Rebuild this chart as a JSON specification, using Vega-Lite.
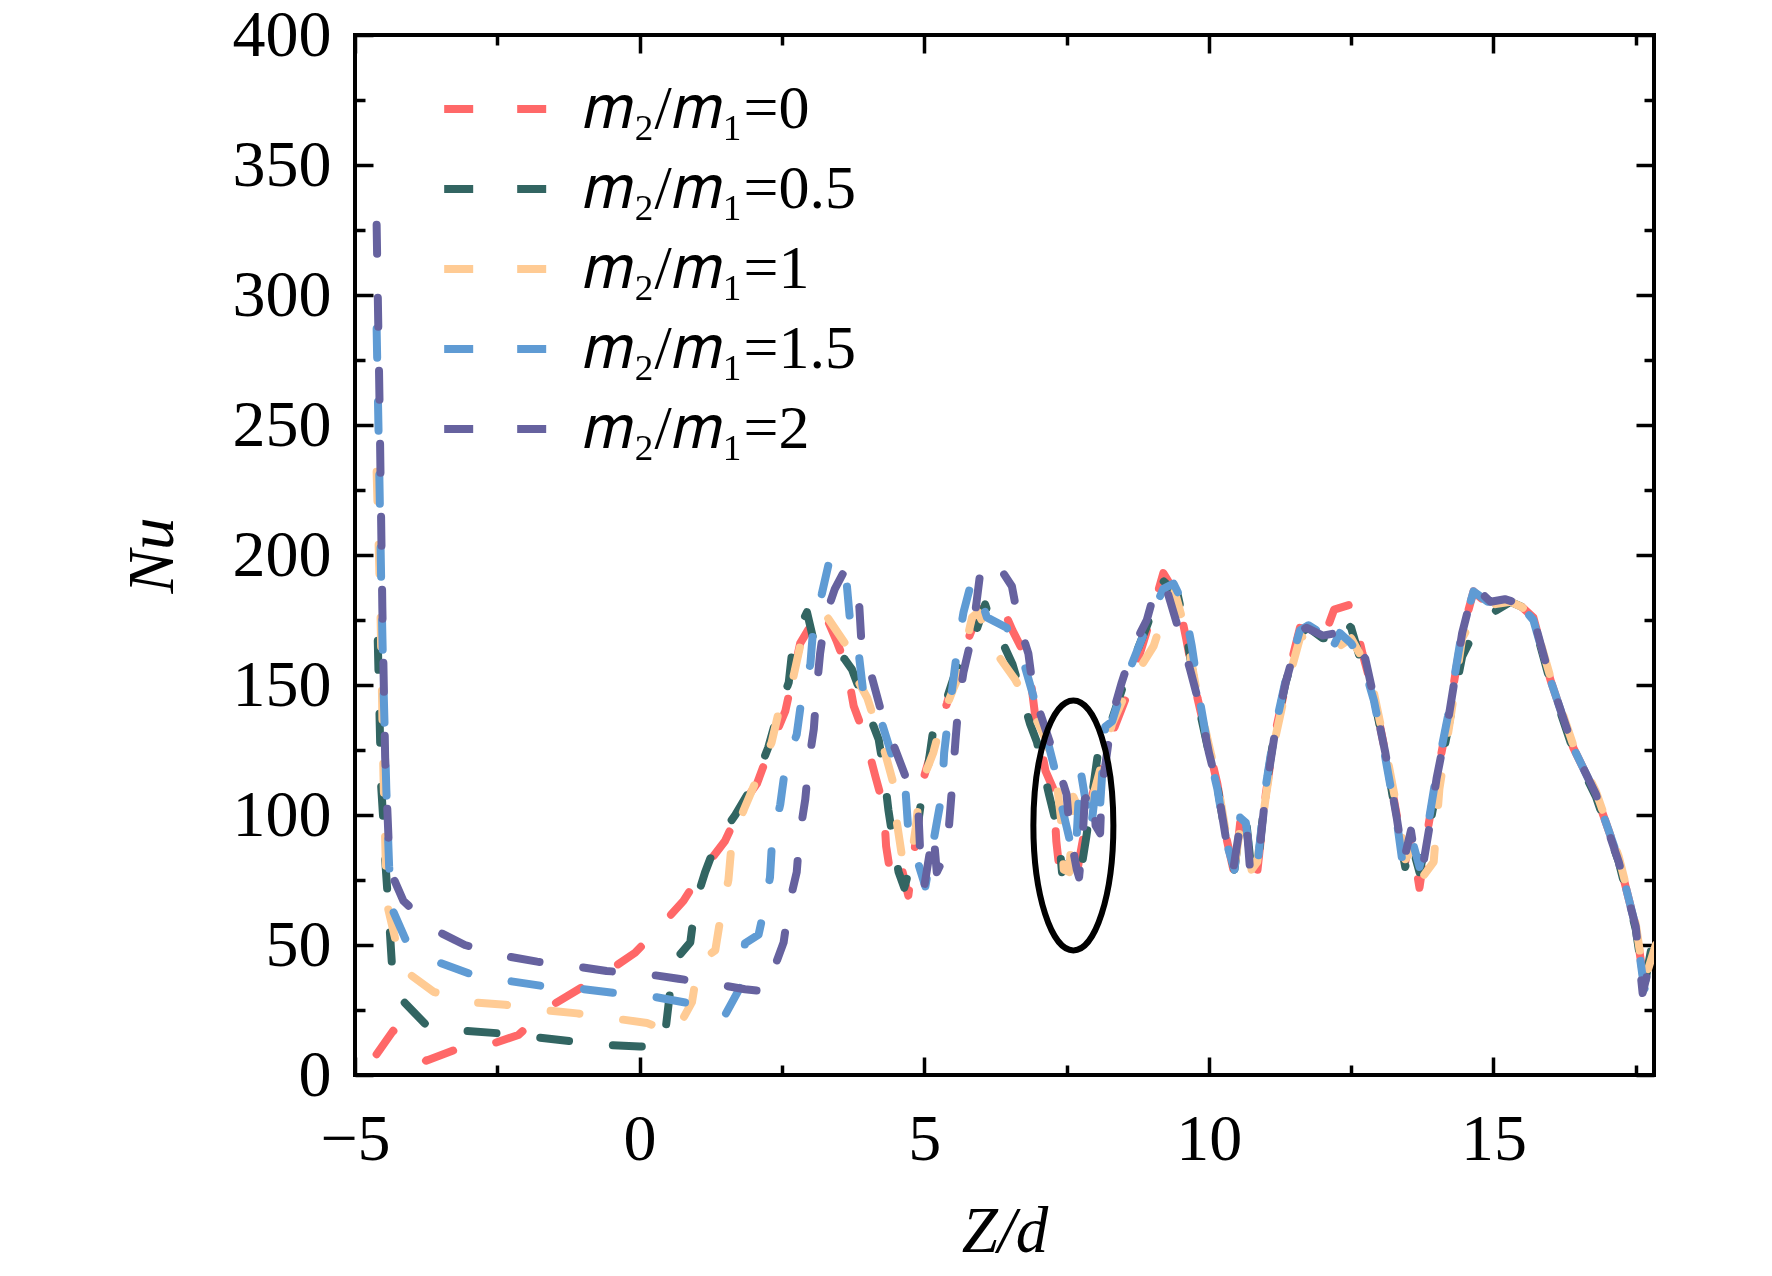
{
  "$schema": "https://vega.github.io/schema/vega-lite/v6.json",
  "autosize": {"type": "none"},
  "padding": {"left": 355, "top": 35, "right": 118, "bottom": 201},
  "width": 1299,
  "height": 1040,
  "background": "white",
  "datasets": {
    "curves": [
      {"r":"0","z":-4.62,"nu":8},{"r":"0","z":-4.33,"nu":17},{"r":"0","z":-3.75,"nu":5.5},{"r":"0","z":-3.2,"nu":10},{"r":"0","z":-2.66,"nu":11.5},{"r":"0","z":-2.13,"nu":15.4},{"r":"0","z":-1.6,"nu":26},{"r":"0","z":-1.07,"nu":33},{"r":"0","z":-0.55,"nu":40},{"r":"0","z":-0.08,"nu":47},{"r":"0","z":0.36,"nu":57},{"r":"0","z":0.77,"nu":67},{"r":"0","z":1.15,"nu":80},{"r":"0","z":1.5,"nu":90},{"r":"0","z":1.8,"nu":104},{"r":"0","z":2.06,"nu":112},{"r":"0","z":2.35,"nu":129},{"r":"0","z":2.56,"nu":140},{"r":"0","z":2.82,"nu":166},{"r":"0","z":3.2,"nu":180},{"r":"0","z":3.46,"nu":167},{"r":"0","z":3.64,"nu":156.5},{"r":"0","z":3.76,"nu":142},{"r":"0","z":3.96,"nu":130},{"r":"0","z":4.14,"nu":115},{"r":"0","z":4.29,"nu":103},{"r":"0","z":4.33,"nu":88},{"r":"0","z":4.43,"nu":74},{"r":"0","z":4.6,"nu":80},{"r":"0","z":4.72,"nu":69},{"r":"0","z":4.85,"nu":90},{"r":"0","z":5.0,"nu":115},{"r":"0","z":5.2,"nu":130},{"r":"0","z":5.4,"nu":143},{"r":"0","z":5.6,"nu":158},{"r":"0","z":5.85,"nu":172},{"r":"0","z":6.05,"nu":182},{"r":"0","z":6.33,"nu":182},{"r":"0","z":6.55,"nu":171},{"r":"0","z":6.83,"nu":159},{"r":"0","z":6.95,"nu":138},{"r":"0","z":7.13,"nu":117},{"r":"0","z":7.27,"nu":110},{"r":"0","z":7.32,"nu":90},{"r":"0","z":7.39,"nu":76},{"r":"0","z":7.55,"nu":82},{"r":"0","z":7.7,"nu":80},{"r":"0","z":7.85,"nu":98},{"r":"0","z":8.0,"nu":112},{"r":"0","z":8.2,"nu":125},{"r":"0","z":8.33,"nu":133},{"r":"0","z":8.56,"nu":146},{"r":"0","z":8.9,"nu":170},{"r":"0","z":9.2,"nu":193},{"r":"0","z":9.45,"nu":184},{"r":"0","z":9.6,"nu":168},{"r":"0","z":9.8,"nu":145},{"r":"0","z":10.0,"nu":126},{"r":"0","z":10.15,"nu":112},{"r":"0","z":10.3,"nu":92},{"r":"0","z":10.45,"nu":77},{"r":"0","z":10.55,"nu":97},{"r":"0","z":10.65,"nu":96},{"r":"0","z":10.75,"nu":80},{"r":"0","z":10.85,"nu":78},{"r":"0","z":11.0,"nu":108},{"r":"0","z":11.15,"nu":130},{"r":"0","z":11.35,"nu":150},{"r":"0","z":11.6,"nu":172},{"r":"0","z":11.75,"nu":171},{"r":"0","z":12.0,"nu":167},{"r":"0","z":12.2,"nu":179},{"r":"0","z":12.5,"nu":181},{"r":"0","z":12.7,"nu":162},{"r":"0","z":12.9,"nu":146},{"r":"0","z":13.1,"nu":124},{"r":"0","z":13.3,"nu":100},{"r":"0","z":13.45,"nu":82},{"r":"0","z":13.55,"nu":92},{"r":"0","z":13.7,"nu":72},{"r":"0","z":13.85,"nu":95},{"r":"0","z":14.0,"nu":114},{"r":"0","z":14.2,"nu":137},{"r":"0","z":14.45,"nu":170},{"r":"0","z":14.65,"nu":186},{"r":"0","z":14.9,"nu":181},{"r":"0","z":15.2,"nu":182},{"r":"0","z":15.5,"nu":180},{"r":"0","z":15.7,"nu":176},{"r":"0","z":16.0,"nu":152},{"r":"0","z":16.4,"nu":126},{"r":"0","z":16.8,"nu":108},{"r":"0","z":17.2,"nu":83},{"r":"0","z":17.5,"nu":57},{"r":"0","z":17.65,"nu":35},{"r":"0","z":17.85,"nu":46},

      {"r":"0.5","z":-4.6,"nu":167},{"r":"0.5","z":-4.57,"nu":139},{"r":"0.5","z":-4.54,"nu":111},{"r":"0.5","z":-4.5,"nu":97},{"r":"0.5","z":-4.47,"nu":83},{"r":"0.5","z":-4.43,"nu":70},{"r":"0.5","z":-4.39,"nu":56},{"r":"0.5","z":-4.35,"nu":42},{"r":"0.5","z":-4.2,"nu":29.5},{"r":"0.5","z":-3.74,"nu":19},{"r":"0.5","z":-3.07,"nu":17},{"r":"0.5","z":-2.45,"nu":16},{"r":"0.5","z":-1.8,"nu":14.5},{"r":"0.5","z":-1.22,"nu":13},{"r":"0.5","z":-0.55,"nu":11.5},{"r":"0.5","z":0.0,"nu":11},{"r":"0.5","z":0.42,"nu":11},{"r":"0.5","z":0.47,"nu":20},{"r":"0.5","z":0.55,"nu":35},{"r":"0.5","z":0.62,"nu":44},{"r":"0.5","z":0.89,"nu":51},{"r":"0.5","z":0.98,"nu":66},{"r":"0.5","z":1.15,"nu":78},{"r":"0.5","z":1.36,"nu":90},{"r":"0.5","z":1.68,"nu":100},{"r":"0.5","z":2.03,"nu":113},{"r":"0.5","z":2.26,"nu":126},{"r":"0.5","z":2.44,"nu":140},{"r":"0.5","z":2.62,"nu":151},{"r":"0.5","z":2.7,"nu":167},{"r":"0.5","z":2.94,"nu":178},{"r":"0.5","z":3.08,"nu":165},{"r":"0.5","z":3.41,"nu":164},{"r":"0.5","z":3.6,"nu":160},{"r":"0.5","z":3.73,"nu":156},{"r":"0.5","z":3.85,"nu":149},{"r":"0.5","z":4.2,"nu":129},{"r":"0.5","z":4.29,"nu":117},{"r":"0.5","z":4.37,"nu":102},{"r":"0.5","z":4.46,"nu":89},{"r":"0.5","z":4.55,"nu":78},{"r":"0.5","z":4.65,"nu":72},{"r":"0.5","z":4.75,"nu":80},{"r":"0.5","z":4.85,"nu":90},{"r":"0.5","z":4.95,"nu":106},{"r":"0.5","z":5.05,"nu":116},{"r":"0.5","z":5.16,"nu":133},{"r":"0.5","z":5.28,"nu":137},{"r":"0.5","z":5.55,"nu":155},{"r":"0.5","z":5.9,"nu":170},{"r":"0.5","z":6.07,"nu":181},{"r":"0.5","z":6.16,"nu":175},{"r":"0.5","z":6.34,"nu":168},{"r":"0.5","z":6.55,"nu":158},{"r":"0.5","z":6.86,"nu":135},{"r":"0.5","z":6.98,"nu":128},{"r":"0.5","z":7.19,"nu":108},{"r":"0.5","z":7.36,"nu":93},{"r":"0.5","z":7.42,"nu":78},{"r":"0.5","z":7.55,"nu":82},{"r":"0.5","z":7.72,"nu":74},{"r":"0.5","z":7.85,"nu":92},{"r":"0.5","z":8.06,"nu":125},{"r":"0.5","z":8.18,"nu":129},{"r":"0.5","z":8.5,"nu":150},{"r":"0.5","z":8.9,"nu":172},{"r":"0.5","z":9.2,"nu":190},{"r":"0.5","z":9.45,"nu":185},{"r":"0.5","z":9.6,"nu":170},{"r":"0.5","z":9.8,"nu":144},{"r":"0.5","z":10.0,"nu":124},{"r":"0.5","z":10.15,"nu":111},{"r":"0.5","z":10.3,"nu":91},{"r":"0.5","z":10.45,"nu":79},{"r":"0.5","z":10.55,"nu":97},{"r":"0.5","z":10.65,"nu":99},{"r":"0.5","z":10.75,"nu":78},{"r":"0.5","z":10.85,"nu":79},{"r":"0.5","z":11.0,"nu":110},{"r":"0.5","z":11.15,"nu":131},{"r":"0.5","z":11.35,"nu":151},{"r":"0.5","z":11.6,"nu":170},{"r":"0.5","z":11.75,"nu":172},{"r":"0.5","z":12.0,"nu":168},{"r":"0.5","z":12.15,"nu":168},{"r":"0.5","z":12.3,"nu":176},{"r":"0.5","z":12.5,"nu":172},{"r":"0.5","z":12.7,"nu":157},{"r":"0.5","z":12.9,"nu":145},{"r":"0.5","z":13.1,"nu":124},{"r":"0.5","z":13.3,"nu":98},{"r":"0.5","z":13.45,"nu":80},{"r":"0.5","z":13.55,"nu":90},{"r":"0.5","z":13.7,"nu":78},{"r":"0.5","z":13.85,"nu":92},{"r":"0.5","z":14.0,"nu":110},{"r":"0.5","z":14.2,"nu":133},{"r":"0.5","z":14.45,"nu":161},{"r":"0.5","z":14.7,"nu":172},{"r":"0.5","z":15.0,"nu":178},{"r":"0.5","z":15.3,"nu":182},{"r":"0.5","z":15.5,"nu":180},{"r":"0.5","z":15.7,"nu":175},{"r":"0.5","z":16.0,"nu":151},{"r":"0.5","z":16.4,"nu":125},{"r":"0.5","z":16.8,"nu":107},{"r":"0.5","z":17.2,"nu":82},{"r":"0.5","z":17.5,"nu":56},{"r":"0.5","z":17.65,"nu":34},{"r":"0.5","z":17.85,"nu":58},

      {"r":"1","z":-4.62,"nu":232},{"r":"1","z":-4.58,"nu":200},{"r":"1","z":-4.55,"nu":175},{"r":"1","z":-4.5,"nu":115},{"r":"1","z":-4.44,"nu":66},{"r":"1","z":-4.3,"nu":53},{"r":"1","z":-4.18,"nu":41},{"r":"1","z":-3.62,"nu":32},{"r":"1","z":-3.0,"nu":28},{"r":"1","z":-2.36,"nu":27},{"r":"1","z":-1.72,"nu":25},{"r":"1","z":-1.1,"nu":23.7},{"r":"1","z":-0.46,"nu":21.8},{"r":"1","z":0.13,"nu":20},{"r":"1","z":0.62,"nu":16},{"r":"1","z":0.92,"nu":28},{"r":"1","z":1.03,"nu":43},{"r":"1","z":1.33,"nu":48},{"r":"1","z":1.44,"nu":63},{"r":"1","z":1.56,"nu":75},{"r":"1","z":1.62,"nu":90},{"r":"1","z":1.83,"nu":102},{"r":"1","z":2.12,"nu":117},{"r":"1","z":2.32,"nu":128},{"r":"1","z":2.5,"nu":145},{"r":"1","z":2.7,"nu":153},{"r":"1","z":2.85,"nu":168},{"r":"1","z":3.11,"nu":172},{"r":"1","z":3.3,"nu":176},{"r":"1","z":3.64,"nu":165},{"r":"1","z":3.85,"nu":151},{"r":"1","z":4.0,"nu":145},{"r":"1","z":4.31,"nu":124},{"r":"1","z":4.46,"nu":112},{"r":"1","z":4.52,"nu":97},{"r":"1","z":4.61,"nu":84},{"r":"1","z":4.75,"nu":80},{"r":"1","z":4.85,"nu":95},{"r":"1","z":4.93,"nu":111},{"r":"1","z":5.16,"nu":124},{"r":"1","z":5.34,"nu":139},{"r":"1","z":5.52,"nu":149},{"r":"1","z":5.6,"nu":153},{"r":"1","z":5.84,"nu":176},{"r":"1","z":5.95,"nu":178},{"r":"1","z":6.1,"nu":170},{"r":"1","z":6.34,"nu":160},{"r":"1","z":6.6,"nu":152},{"r":"1","z":6.92,"nu":139},{"r":"1","z":7.16,"nu":128},{"r":"1","z":7.33,"nu":112},{"r":"1","z":7.4,"nu":99},{"r":"1","z":7.45,"nu":79},{"r":"1","z":7.55,"nu":78},{"r":"1","z":7.62,"nu":107},{"r":"1","z":7.74,"nu":101},{"r":"1","z":7.85,"nu":96},{"r":"1","z":8.0,"nu":110},{"r":"1","z":8.3,"nu":135},{"r":"1","z":8.6,"nu":150},{"r":"1","z":9.03,"nu":165},{"r":"1","z":9.21,"nu":177},{"r":"1","z":9.4,"nu":186},{"r":"1","z":9.6,"nu":170},{"r":"1","z":9.8,"nu":146},{"r":"1","z":10.0,"nu":127},{"r":"1","z":10.15,"nu":113},{"r":"1","z":10.3,"nu":93},{"r":"1","z":10.45,"nu":80},{"r":"1","z":10.55,"nu":95},{"r":"1","z":10.65,"nu":94},{"r":"1","z":10.75,"nu":79},{"r":"1","z":10.85,"nu":82},{"r":"1","z":11.0,"nu":107},{"r":"1","z":11.15,"nu":128},{"r":"1","z":11.35,"nu":148},{"r":"1","z":11.6,"nu":168},{"r":"1","z":11.75,"nu":170},{"r":"1","z":12.0,"nu":166},{"r":"1","z":12.3,"nu":165},{"r":"1","z":12.5,"nu":168},{"r":"1","z":12.7,"nu":160},{"r":"1","z":12.9,"nu":147},{"r":"1","z":13.1,"nu":126},{"r":"1","z":13.3,"nu":103},{"r":"1","z":13.45,"nu":83},{"r":"1","z":13.6,"nu":88},{"r":"1","z":13.75,"nu":76},{"r":"1","z":13.95,"nu":82},{"r":"1","z":14.05,"nu":110},{"r":"1","z":14.25,"nu":138},{"r":"1","z":14.45,"nu":168},{"r":"1","z":14.7,"nu":178},{"r":"1","z":15.0,"nu":181},{"r":"1","z":15.3,"nu":182},{"r":"1","z":15.5,"nu":180},{"r":"1","z":15.7,"nu":176},{"r":"1","z":16.0,"nu":153},{"r":"1","z":16.4,"nu":127},{"r":"1","z":16.8,"nu":109},{"r":"1","z":17.2,"nu":84},{"r":"1","z":17.5,"nu":58},{"r":"1","z":17.65,"nu":36},{"r":"1","z":17.85,"nu":50},

      {"r":"1.5","z":-4.62,"nu":287},{"r":"1.5","z":-4.58,"nu":240},{"r":"1.5","z":-4.54,"nu":190},{"r":"1.5","z":-4.5,"nu":150},{"r":"1.5","z":-4.45,"nu":110},{"r":"1.5","z":-4.4,"nu":80},{"r":"1.5","z":-4.33,"nu":63},{"r":"1.5","z":-4.09,"nu":51},{"r":"1.5","z":-3.49,"nu":43},{"r":"1.5","z":-2.86,"nu":38},{"r":"1.5","z":-2.25,"nu":36},{"r":"1.5","z":-1.63,"nu":34},{"r":"1.5","z":-0.99,"nu":33},{"r":"1.5","z":-0.37,"nu":31.4},{"r":"1.5","z":0.27,"nu":30},{"r":"1.5","z":0.89,"nu":27.5},{"r":"1.5","z":1.5,"nu":23},{"r":"1.5","z":1.8,"nu":35},{"r":"1.5","z":1.85,"nu":50.6},{"r":"1.5","z":2.09,"nu":54},{"r":"1.5","z":2.18,"nu":63},{"r":"1.5","z":2.29,"nu":76},{"r":"1.5","z":2.33,"nu":91},{"r":"1.5","z":2.47,"nu":104},{"r":"1.5","z":2.56,"nu":118.6},{"r":"1.5","z":2.76,"nu":131},{"r":"1.5","z":2.85,"nu":145.5},{"r":"1.5","z":3.0,"nu":158},{"r":"1.5","z":3.05,"nu":172},{"r":"1.5","z":3.2,"nu":185},{"r":"1.5","z":3.35,"nu":199.4},{"r":"1.5","z":3.64,"nu":188.5},{"r":"1.5","z":3.7,"nu":174},{"r":"1.5","z":3.85,"nu":162},{"r":"1.5","z":3.93,"nu":147},{"r":"1.5","z":4.26,"nu":135},{"r":"1.5","z":4.46,"nu":121},{"r":"1.5","z":4.67,"nu":110},{"r":"1.5","z":4.72,"nu":94},{"r":"1.5","z":4.87,"nu":83},{"r":"1.5","z":5.02,"nu":72.5},{"r":"1.5","z":5.22,"nu":97},{"r":"1.5","z":5.31,"nu":108},{"r":"1.5","z":5.35,"nu":124},{"r":"1.5","z":5.42,"nu":137},{"r":"1.5","z":5.5,"nu":150},{"r":"1.5","z":5.57,"nu":162},{"r":"1.5","z":5.69,"nu":178},{"r":"1.5","z":5.81,"nu":188},{"r":"1.5","z":5.9,"nu":190},{"r":"1.5","z":6.1,"nu":176},{"r":"1.5","z":6.45,"nu":172},{"r":"1.5","z":6.77,"nu":157},{"r":"1.5","z":6.92,"nu":145.5},{"r":"1.5","z":7.16,"nu":129},{"r":"1.5","z":7.3,"nu":117},{"r":"1.5","z":7.42,"nu":103},{"r":"1.5","z":7.56,"nu":90},{"r":"1.5","z":7.66,"nu":84},{"r":"1.5","z":7.74,"nu":118},{"r":"1.5","z":7.83,"nu":106},{"r":"1.5","z":7.92,"nu":93},{"r":"1.5","z":8.0,"nu":108},{"r":"1.5","z":8.07,"nu":97},{"r":"1.5","z":8.18,"nu":134},{"r":"1.5","z":8.3,"nu":136},{"r":"1.5","z":8.5,"nu":150},{"r":"1.5","z":8.9,"nu":172},{"r":"1.5","z":9.2,"nu":187},{"r":"1.5","z":9.38,"nu":189},{"r":"1.5","z":9.56,"nu":181},{"r":"1.5","z":9.7,"nu":165},{"r":"1.5","z":9.85,"nu":143},{"r":"1.5","z":10.0,"nu":124},{"r":"1.5","z":10.15,"nu":110},{"r":"1.5","z":10.3,"nu":90},{"r":"1.5","z":10.45,"nu":79},{"r":"1.5","z":10.55,"nu":99},{"r":"1.5","z":10.65,"nu":97},{"r":"1.5","z":10.75,"nu":79},{"r":"1.5","z":10.85,"nu":80},{"r":"1.5","z":11.0,"nu":111},{"r":"1.5","z":11.15,"nu":132},{"r":"1.5","z":11.35,"nu":152},{"r":"1.5","z":11.6,"nu":171},{"r":"1.5","z":11.75,"nu":173},{"r":"1.5","z":11.9,"nu":171},{"r":"1.5","z":12.1,"nu":161},{"r":"1.5","z":12.3,"nu":170},{"r":"1.5","z":12.5,"nu":166},{"r":"1.5","z":12.7,"nu":159},{"r":"1.5","z":12.9,"nu":144},{"r":"1.5","z":13.1,"nu":122},{"r":"1.5","z":13.3,"nu":98},{"r":"1.5","z":13.4,"nu":82},{"r":"1.5","z":13.55,"nu":92},{"r":"1.5","z":13.7,"nu":80},{"r":"1.5","z":13.85,"nu":96},{"r":"1.5","z":14.0,"nu":116},{"r":"1.5","z":14.2,"nu":138},{"r":"1.5","z":14.45,"nu":171},{"r":"1.5","z":14.65,"nu":186},{"r":"1.5","z":14.9,"nu":182},{"r":"1.5","z":15.2,"nu":182},{"r":"1.5","z":15.5,"nu":180},{"r":"1.5","z":15.7,"nu":175},{"r":"1.5","z":16.0,"nu":152},{"r":"1.5","z":16.4,"nu":126},{"r":"1.5","z":16.8,"nu":108},{"r":"1.5","z":17.2,"nu":83},{"r":"1.5","z":17.5,"nu":57},{"r":"1.5","z":17.65,"nu":33},{"r":"1.5","z":17.85,"nu":41},

      {"r":"2","z":-4.62,"nu":327},{"r":"2","z":-4.57,"nu":260},{"r":"2","z":-4.52,"nu":180},{"r":"2","z":-4.47,"nu":122},{"r":"2","z":-4.4,"nu":85},{"r":"2","z":-4.36,"nu":77.5},{"r":"2","z":-4.15,"nu":67},{"r":"2","z":-3.62,"nu":56},{"r":"2","z":-3.07,"nu":50},{"r":"2","z":-2.42,"nu":46},{"r":"2","z":-1.8,"nu":43.6},{"r":"2","z":-1.19,"nu":42},{"r":"2","z":-0.58,"nu":40},{"r":"2","z":0.07,"nu":39},{"r":"2","z":0.68,"nu":37},{"r":"2","z":1.33,"nu":35},{"r":"2","z":1.85,"nu":33},{"r":"2","z":2.25,"nu":32},{"r":"2","z":2.32,"nu":38.5},{"r":"2","z":2.53,"nu":51},{"r":"2","z":2.62,"nu":65},{"r":"2","z":2.76,"nu":78},{"r":"2","z":2.81,"nu":92},{"r":"2","z":2.91,"nu":106},{"r":"2","z":2.97,"nu":120},{"r":"2","z":3.06,"nu":133},{"r":"2","z":3.11,"nu":148},{"r":"2","z":3.17,"nu":162},{"r":"2","z":3.26,"nu":176},{"r":"2","z":3.43,"nu":187},{"r":"2","z":3.6,"nu":194},{"r":"2","z":3.69,"nu":192},{"r":"2","z":3.86,"nu":180},{"r":"2","z":3.9,"nu":165},{"r":"2","z":4.08,"nu":153},{"r":"2","z":4.26,"nu":138.5},{"r":"2","z":4.46,"nu":127},{"r":"2","z":4.72,"nu":112},{"r":"2","z":4.9,"nu":100},{"r":"2","z":4.93,"nu":85},{"r":"2","z":5.0,"nu":72.5},{"r":"2","z":5.16,"nu":94},{"r":"2","z":5.22,"nu":78},{"r":"2","z":5.4,"nu":86},{"r":"2","z":5.45,"nu":100},{"r":"2","z":5.5,"nu":114},{"r":"2","z":5.55,"nu":129},{"r":"2","z":5.6,"nu":142},{"r":"2","z":5.69,"nu":155},{"r":"2","z":5.84,"nu":169},{"r":"2","z":5.92,"nu":182},{"r":"2","z":6.0,"nu":196},{"r":"2","z":6.15,"nu":198},{"r":"2","z":6.3,"nu":196},{"r":"2","z":6.54,"nu":188},{"r":"2","z":6.66,"nu":174},{"r":"2","z":6.83,"nu":162},{"r":"2","z":6.92,"nu":147},{"r":"2","z":7.1,"nu":135},{"r":"2","z":7.33,"nu":120},{"r":"2","z":7.5,"nu":108},{"r":"2","z":7.56,"nu":93},{"r":"2","z":7.68,"nu":79},{"r":"2","z":7.72,"nu":76},{"r":"2","z":7.78,"nu":90},{"r":"2","z":7.82,"nu":106},{"r":"2","z":7.97,"nu":110},{"r":"2","z":8.01,"nu":96},{"r":"2","z":8.09,"nu":93},{"r":"2","z":8.12,"nu":111},{"r":"2","z":8.18,"nu":119},{"r":"2","z":8.3,"nu":138},{"r":"2","z":8.47,"nu":151},{"r":"2","z":8.68,"nu":165},{"r":"2","z":8.91,"nu":175},{"r":"2","z":9.1,"nu":190},{"r":"2","z":9.27,"nu":186},{"r":"2","z":9.5,"nu":169},{"r":"2","z":9.67,"nu":156},{"r":"2","z":9.85,"nu":141},{"r":"2","z":10.0,"nu":124},{"r":"2","z":10.15,"nu":111},{"r":"2","z":10.3,"nu":91},{"r":"2","z":10.42,"nu":78},{"r":"2","z":10.55,"nu":96},{"r":"2","z":10.65,"nu":100},{"r":"2","z":10.72,"nu":80},{"r":"2","z":10.85,"nu":78},{"r":"2","z":11.0,"nu":109},{"r":"2","z":11.15,"nu":130},{"r":"2","z":11.35,"nu":151},{"r":"2","z":11.6,"nu":171},{"r":"2","z":11.72,"nu":172},{"r":"2","z":12.0,"nu":169},{"r":"2","z":12.25,"nu":170},{"r":"2","z":12.6,"nu":166},{"r":"2","z":12.75,"nu":160},{"r":"2","z":12.9,"nu":145},{"r":"2","z":13.1,"nu":124},{"r":"2","z":13.3,"nu":99},{"r":"2","z":13.42,"nu":82},{"r":"2","z":13.55,"nu":94},{"r":"2","z":13.62,"nu":84},{"r":"2","z":13.75,"nu":79},{"r":"2","z":13.88,"nu":96},{"r":"2","z":14.0,"nu":114},{"r":"2","z":14.2,"nu":136},{"r":"2","z":14.45,"nu":170},{"r":"2","z":14.66,"nu":188},{"r":"2","z":14.95,"nu":182},{"r":"2","z":15.2,"nu":183},{"r":"2","z":15.5,"nu":181},{"r":"2","z":15.7,"nu":176},{"r":"2","z":16.0,"nu":152},{"r":"2","z":16.4,"nu":126},{"r":"2","z":16.8,"nu":108},{"r":"2","z":17.2,"nu":82},{"r":"2","z":17.5,"nu":57},{"r":"2","z":17.62,"nu":31.5},{"r":"2","z":17.85,"nu":52}
    ],
    "note": [{"z": 7.62, "nu": 96}]
  },
  "config": {
    "font": "Liberation Serif",
    "view": {"stroke": "black", "strokeWidth": 4},
    "axis": {
      "domain": false,
      "grid": false,
      "tickColor": "black",
      "tickWidth": 3.5,
      "labelColor": "black",
      "labelFont": "Liberation Serif",
      "labelFontSize": 66,
      "labelFlush": false,
      "labelOverlap": false,
      "titleColor": "black",
      "titleFont": "Liberation Serif",
      "titleFontSize": 65,
      "titleFontWeight": "normal",
      "titleFontStyle": "italic"
    }
  },
  "resolve": {"axis": {"x": "independent", "y": "independent"}},
  "layer": [
    {
      "data": {"name": "curves"},
      "mark": {"type": "line", "strokeWidth": 8, "strokeDash": [29, 44], "strokeCap": "round", "strokeJoin": "round", "clip": true},
      "encoding": {
        "x": {
          "field": "z", "type": "quantitative",
          "scale": {"domain": [-5, 17.82], "nice": false, "zero": false},
          "axis": {"orient": "bottom", "values": [-5, 0, 5, 10, 15], "format": "d", "tickSize": -18, "labelPadding": 50, "title": "Z/d", "titlePadding": 28}
        },
        "y": {
          "field": "nu", "type": "quantitative",
          "scale": {"domain": [0, 400], "nice": false},
          "axis": {"orient": "left", "values": [0, 50, 100, 150, 200, 250, 300, 350, 400], "tickSize": -18, "labelPadding": 42, "title": "Nu", "titlePadding": 46}
        },
        "color": {
          "field": "r", "type": "nominal",
          "scale": {"domain": ["0", "0.5", "1", "1.5", "2"], "range": ["#FF6868", "#326562", "#FFCB94", "#5F9BD4", "#66629F"]},
          "legend": {
            "orient": "none", "legendX": 85, "legendY": 44, "title": null, "padding": 0,
            "symbolType": "stroke", "symbolSize": 11800, "symbolStrokeWidth": 8, "symbolDash": [29, 44],
            "clipHeight": 60, "rowPadding": 18, "labelOffset": 26, "labelLimit": 0,
            "labelFont": "Liberation Serif", "labelFontSize": 62, "labelColor": "black",
            "labelExpr": "'𝑚₂/𝑚₁=' + datum.label"
          }
        }
      }
    },
    {
      "data": {"name": "note"},
      "mark": {"type": "point", "shape": "M0,-1C0.1767,-1 0.32,-0.5523 0.32,0C0.32,0.5523 0.1767,1 0,1C-0.1767,1 -0.32,0.5523 -0.32,0C-0.32,-0.5523 -0.1767,-1 0,-1Z", "size": 62500, "filled": false, "stroke": "black", "strokeWidth": 6, "opacity": 1},
      "encoding": {
        "x": {"field": "z", "type": "quantitative", "axis": {"orient": "bottom", "values": [-2.5, 2.5, 7.5, 12.5, 17.5], "tickSize": -10, "labels": false, "title": null}},
        "y": {"field": "nu", "type": "quantitative", "axis": {"orient": "left", "values": [25, 75, 125, 175, 225, 275, 325, 375], "tickSize": -10, "labels": false, "title": null}}
      }
    },
    {
      "data": {"name": "note"},
      "mark": {"type": "point", "opacity": 0},
      "encoding": {
        "x": {"field": "z", "type": "quantitative", "axis": {"orient": "top", "values": [-5, 0, 5, 10, 15], "tickSize": -18, "labels": false, "title": null}},
        "y": {"field": "nu", "type": "quantitative", "axis": {"orient": "right", "values": [0, 50, 100, 150, 200, 250, 300, 350, 400], "tickSize": -18, "labels": false, "title": null}}
      }
    },
    {
      "data": {"name": "note"},
      "mark": {"type": "point", "opacity": 0},
      "encoding": {
        "x": {"field": "z", "type": "quantitative", "axis": {"orient": "top", "values": [-2.5, 2.5, 7.5, 12.5, 17.5], "tickSize": -10, "labels": false, "title": null}},
        "y": {"field": "nu", "type": "quantitative", "axis": {"orient": "right", "values": [25, 75, 125, 175, 225, 275, 325, 375], "tickSize": -10, "labels": false, "title": null}}
      }
    }
  ]
}
